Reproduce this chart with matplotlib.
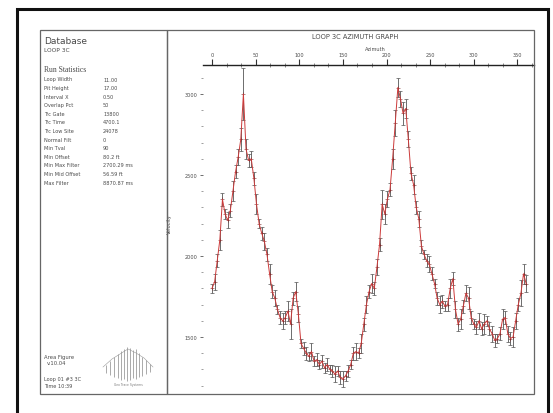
import matplotlib
matplotlib.use("Agg")
import matplotlib.pyplot as plt
import numpy as np
from matplotlib.patches import Rectangle
from matplotlib.ticker import MultipleLocator

# ---------------------------------------------------------------- data
azimuth = np.arange(0, 361, 3)  # deg
velocity = [
    1800, 1840, 1970, 2100, 2350, 2260, 2220, 2280, 2400, 2520,
    2610, 2720, 3000, 2660, 2590, 2600, 2480, 2320, 2200, 2140,
    2090, 2010, 1890, 1780, 1740, 1670, 1620, 1600, 1620, 1660,
    1580, 1740, 1780, 1640, 1460, 1430, 1400, 1380, 1410, 1350,
    1360, 1330, 1350, 1310, 1330, 1300, 1290, 1270, 1290, 1250,
    1240, 1260, 1290, 1330, 1400, 1410, 1400, 1460, 1580, 1700,
    1780, 1830, 1800, 1930, 2070, 2320, 2260, 2350, 2410, 2600,
    2820, 3040, 2970, 2880, 2910, 2720, 2510, 2440, 2300, 2230,
    2060, 2010, 1970, 1950, 1890, 1830, 1740, 1700, 1720, 1690,
    1700, 1800, 1860, 1670, 1580, 1610, 1690, 1770, 1740, 1620,
    1580, 1560, 1600, 1550, 1580, 1600, 1550, 1520, 1480, 1490,
    1520, 1610, 1620, 1520, 1490, 1500, 1600, 1700, 1770, 1890,
    1830,
]
velocity_err = [
    30, 50, 40, 60, 40, 30, 50, 40, 60, 40,
    50, 70, 160, 60, 40, 50, 40, 60, 30, 40,
    50, 40, 60, 40, 50, 30, 40, 50, 40, 60,
    90, 40, 60, 50, 30, 40, 40, 30, 50, 30,
    40, 30, 40, 30, 40, 30, 40, 50, 30, 40,
    50, 30, 40, 30, 40, 50, 30, 60, 40, 50,
    40, 60, 40, 50, 40, 90, 60, 50, 40, 60,
    80, 60, 50, 70, 60, 50, 40, 60, 40, 50,
    40, 30, 40, 50, 40, 30, 40, 50, 40, 30,
    40, 60, 40, 50, 40, 60, 40, 50, 70, 40,
    30, 40, 50, 40, 60, 30, 40, 50, 40, 30,
    40, 60, 40, 50, 40, 60, 50, 40, 80, 60,
    50,
]

stat_labels = ["Loop Width", "Pit Height", "Interval X", "Overlap Pct", "Trc Gate",
               "Trc Time", "Trc Low Site", "Normal Filt", "Min Tval", "Min Offset",
               "Min Max Filter", "Min Mid Offset", "Max Filter"]
stat_values = ["11.00", "17.00", "0.50", "50", "13800", "4700.1", "24078", "0",
               "90", "80.2 ft", "2700.29 ms", "56.59 ft", "8870.87 ms"]

W, H = 553, 414
TXT = "#4a4a4a"


def fx(x):
    return x / W


def fy(y):
    return 1 - y / H


fig = plt.figure(figsize=(W / 100, H / 100), dpi=100)
fig.patch.set_facecolor("white")

# frames
fig.patches.append(Rectangle((fx(17), fy(418)), fx(548) - fx(17), fy(10) - fy(418),
                             transform=fig.transFigure, fill=False, ec="#111", lw=2.2))
fig.patches.append(Rectangle((fx(40), fy(395)), fx(167) - fx(40), fy(31) - fy(395),
                             transform=fig.transFigure, fill=False, ec="#666", lw=0.9))
fig.patches.append(Rectangle((fx(167), fy(395)), fx(534) - fx(167), fy(31) - fy(395),
                             transform=fig.transFigure, fill=False, ec="#666", lw=0.9))

# left info panel
fig.text(fx(44), fy(42), "Database", fontsize=6.5, color=TXT, va="center")
fig.text(fx(44), fy(51), "LOOP 3C", fontsize=4.2, color=TXT, va="center")
fig.text(fx(44), fy(70), "Run Statistics", fontsize=5.5, color=TXT, va="center",
         family="Liberation Serif")
for i, (lab, val) in enumerate(zip(stat_labels, stat_values)):
    y = 80 + i * 8.6
    fig.text(fx(44), fy(y), lab, fontsize=3.6, color=TXT, va="center")
    fig.text(fx(103), fy(y), val, fontsize=3.6, color=TXT, va="center")

fig.text(fx(44), fy(357), "Area Figure", fontsize=3.8, color=TXT, va="center")
fig.text(fx(47), fy(364), "v.10.04", fontsize=3.8, color=TXT, va="center")
fig.text(fx(44), fy(380), "Loop 01 #3 3C", fontsize=3.6, color=TXT, va="center")
fig.text(fx(44), fy(387), "Time 10:39", fontsize=3.6, color=TXT, va="center")

# small tree logo
logo = fig.add_axes([fx(98), fy(388), fx(158) - fx(98), fy(346) - fy(388)])
logo.axis("off")
logo.set_xlim(0, 60)
logo.set_ylim(0, 42)
stems_x = [8, 12, 16, 20, 23, 26, 29, 32, 35, 38, 41, 44, 48, 52]
stems_top = [22, 26, 30, 33, 36, 38, 40, 39, 37, 38, 34, 30, 27, 23]
stems_bot = [14, 12, 10, 9, 7, 8, 6, 7, 9, 8, 10, 11, 13, 15]
logo.vlines(stems_x, stems_bot, stems_top, color="#888", lw=0.5)
logo.plot([5, 14, 22, 30, 38, 46, 55], [20, 28, 33, 38, 34, 29, 20], color="#999", lw=0.4)
logo.text(30, 2, "Geo Trace Systems", fontsize=2.2, color="#777", ha="center")

# main chart
ax = fig.add_axes([fx(203), fy(395), fx(534) - fx(203), fy(66) - fy(395)])
ax.errorbar(azimuth, velocity, yerr=velocity_err, fmt="-", color="#cc3a3a", lw=0.7,
            ecolor="#555", elinewidth=0.6, capsize=1.6, capthick=0.5)
ax.plot(azimuth, velocity, "+", color="#7a2a2a", ms=3, mew=0.4)

ax.set_xlim(-10.3, 369)
ax.set_ylim(1148, 3179)

ax.xaxis.set_ticks_position("top")
ax.xaxis.set_label_position("top")
ax.xaxis.set_major_locator(MultipleLocator(50))
ax.xaxis.set_minor_locator(MultipleLocator(50 / 3))
ax.yaxis.set_major_locator(MultipleLocator(500))
ax.yaxis.set_minor_locator(MultipleLocator(100))
ax.tick_params(axis="x", which="major", direction="out", length=4, width=0.8,
               labelsize=3.6, labelcolor=TXT, pad=1.5, color="#333")
ax.tick_params(axis="x", which="minor", direction="inout", length=2.5, width=0.5, color="#555")
ax.tick_params(axis="y", which="major", direction="out", length=2.5, width=0.6,
               labelsize=3.6, labelcolor=TXT, pad=1.5, color="#555")
ax.tick_params(axis="y", which="minor", direction="out", length=1.5, width=0.5, color="#777")

for s in ["left", "right", "bottom"]:
    ax.spines[s].set_visible(False)
ax.spines["top"].set_linewidth(1.0)
ax.spines["top"].set_color("#222")

ax.set_xlabel("Azimuth", fontsize=3.6, color=TXT, labelpad=2)
ax.xaxis.set_label_coords(0.52, 1.045)
ax.set_ylabel("Velocity", fontsize=3.6, color=TXT)
ax.yaxis.set_label_coords(-0.095, 0.52)

fig.text(fx(355), fy(37), "LOOP 3C AZIMUTH GRAPH", fontsize=4.8, color=TXT,
         ha="center", va="center")

fig.savefig("out.png", dpi=100)
